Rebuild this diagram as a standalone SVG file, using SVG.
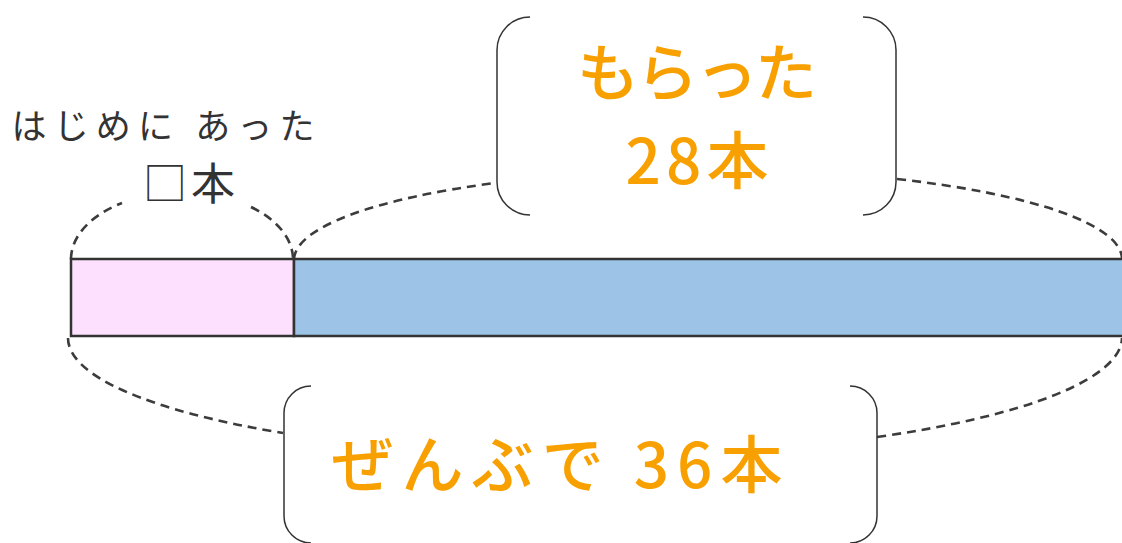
<svg xmlns="http://www.w3.org/2000/svg" width="1122" height="543" viewBox="0 0 1122 543">
<style>
.dash{fill:none;stroke:#3c3c3c;stroke-width:2.6;stroke-dasharray:9 6}
.brk{fill:none;stroke:#333;stroke-width:1.5}
.bar{stroke:#333;stroke-width:2.5}
.jp{font-family:"Noto Sans CJK JP","Noto Sans",sans-serif}
.org{fill:#f7a000;font-weight:500}
.dk{fill:#333}
</style>
<rect width="1122" height="543" fill="#fff"/>
<g id="connectors">
<path class="dash" d="M71,259 A111,67 0 0 1 122,203"/>
<path class="dash" d="M251,207 A111,67 0 0 1 293,259"/>
<path class="dash" d="M294,259 A414,90 0 0 1 495,183"/>
<path class="dash" d="M897,179 A414,90 0 0 1 1122,259"/>
<path class="dash" d="M68,338 A527,118 0 0 0 283,433"/>
<path class="dash" d="M877,437 A527,118 0 0 0 1122,338"/>
</g>
<g id="bar">
<rect class="bar" x="71" y="259" width="223" height="77" fill="#fde0fd"/>
<rect class="bar" x="294" y="259" width="835" height="77" fill="#9dc3e6"/>
</g>
<g id="initial">
<text class="jp dk" x="163" y="139" font-size="35" text-anchor="middle" textLength="303" lengthAdjust="spacing">はじめに あった</text>
<text class="jp dk" x="189" y="200" font-size="44" text-anchor="middle" textLength="92" lengthAdjust="spacing">□本</text>
</g>
<g id="received">
<path class="brk" d="M530,17 A33,33 0 0 0 497,50 L497,182 A33,33 0 0 0 530,215"/>
<path class="brk" d="M863,17 A33,33 0 0 1 896,50 L896,182 A33,33 0 0 1 863,215"/>
<text class="jp org" x="697" y="96" font-size="62" text-anchor="middle" textLength="240" lengthAdjust="spacing">もらった</text>
<text class="jp org" x="697" y="184" font-size="62" text-anchor="middle" textLength="143" lengthAdjust="spacing">28本</text>
</g>
<g id="total">
<path class="brk" d="M311,386 A27,27 0 0 0 284,413 L284,516 A27,27 0 0 0 311,543"/>
<path class="brk" d="M850,386 A27,27 0 0 1 877,413 L877,516 A27,27 0 0 1 850,543"/>
<text class="jp org" x="557" y="488" font-size="62" text-anchor="middle" textLength="451" lengthAdjust="spacing">ぜんぶで  36本</text>
</g>
</svg>
